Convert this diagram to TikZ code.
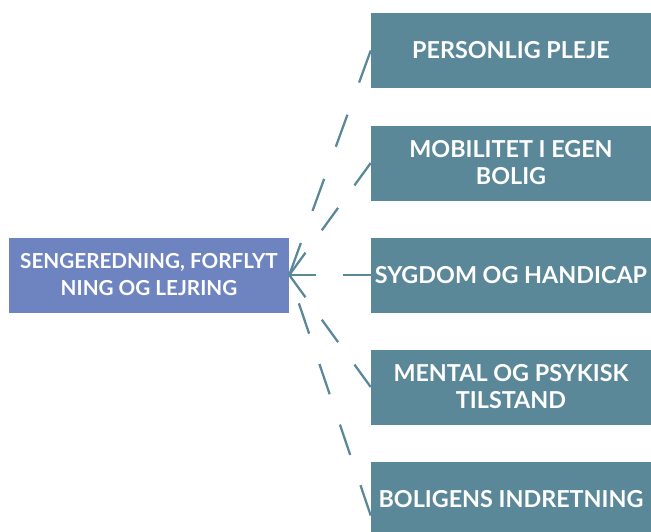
\documentclass[tikz,border=0pt]{standalone}
\usepackage{fontspec}
\setmainfont{Lato}
\usetikzlibrary{arrows.meta}
\definecolor{tealbox}{RGB}{90,136,152}
\definecolor{bluebox}{RGB}{110,132,192}
\tikzset{
  topicbox/.style={fill=tealbox, text=white, font=\bfseries\fontsize{17.5}{20.25}\selectfont,
    align=center, minimum width=210pt, minimum height=56.25pt, inner sep=0pt},
  srcbox/.style={topicbox, fill=bluebox, font=\bfseries\fontsize{15.5}{20.25}\selectfont},
  link/.style={draw=tealbox, line width=1.7pt, dash pattern=on #1 off #1}
}
\begin{document}
\begin{tikzpicture}[x=0.75pt,y=0.75pt,yscale=-1,xscale=1]
\useasboundingbox (0,0) rectangle (651,532);
\clip (0,0) rectangle (651,532);

% Source box
\node[srcbox] (sr) at (149,275) {SENGEREDNING, FORFLYT\\NING OG LEJRING};

% Topic boxes
\node[topicbox] (t1) at (511,50.5) {PERSONLIG PLEJE};
\node[topicbox] (t2) at (511,163) {MOBILITET I EGEN\\BOLIG};
\node[topicbox] (t3) at (511,275) {SYGDOM OG HANDICAP};
\node[topicbox] (t4) at (511,387) {MENTAL OG PSYKISK\\TILSTAND};
\node[topicbox] (t5) at (511,499.5) {BOLIGENS INDRETNING};
\coordinate (t5in) at ([yshift=12pt]t5.west);

% Dashed links
\draw[link=25.6pt] (t1.west) -- (sr.east);
\draw[link=20.8pt] (t2.west) -- (sr.east);
\draw[link=20.5pt] (t3.west) -- (sr.east);
\draw[link=20.8pt] (t4.west) -- (sr.east);
\draw[link=24pt] (t5in) -- (sr.east);

\end{tikzpicture}
\end{document}
